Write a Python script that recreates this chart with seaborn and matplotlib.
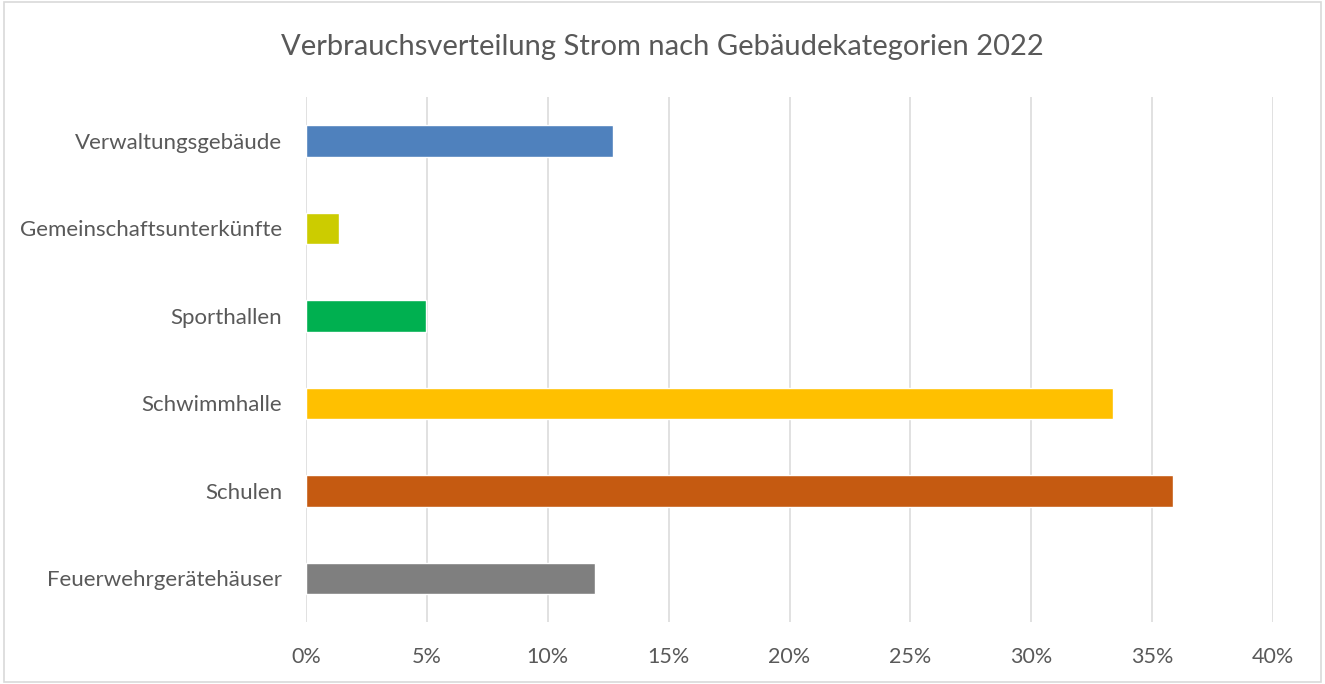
"""Verbrauchsverteilung Strom nach Gebäudekategorien 2022 - horizontal bar chart."""
import matplotlib
matplotlib.use('Agg')
import matplotlib.pyplot as plt
import seaborn as sns
import pandas as pd
from matplotlib.patches import Rectangle
from matplotlib.ticker import PercentFormatter

categories = ['Verwaltungsgebäude', 'Gemeinschaftsunterkünfte', 'Sporthallen',
              'Schwimmhalle', 'Schulen', 'Feuerwehrgerätehäuser']
shares = [12.7, 1.36, 4.97, 33.4, 35.85, 11.95]
colors = ['#4F81BD', '#CCCC00', '#00B050', '#FFC000', '#C55A11', '#7F7F7F']
x_ticks = [0, 5, 10, 15, 20, 25, 30, 35, 40]

sns.set_style('white')
plt.rcParams['font.family'] = ['Lato', 'DejaVu Sans']
text_color = '#595959'
grid_color = '#D9D9D9'

df = pd.DataFrame({'Kategorie': categories, 'Anteil': shares})

fig = plt.figure(figsize=(13.25, 6.84), dpi=100)
ax = fig.add_axes([306 / 1325, 1 - 622 / 684, (1273 - 306) / 1325, (622 - 97) / 684])

sns.barplot(data=df, x='Anteil', y='Kategorie', hue='Kategorie', palette=colors,
            order=categories, hue_order=categories, width=0.36, legend=False,
            saturation=1, ax=ax, zorder=3)

ax.set_xlim(0, 40)
ax.set_xticks(x_ticks)
ax.xaxis.set_major_formatter(PercentFormatter(decimals=0))
ax.grid(axis='x', color=grid_color, linewidth=1.1, zorder=0)
ax.grid(axis='y', visible=False)
ax.set_axisbelow(True)
for side in ['top', 'right', 'bottom', 'left']:
    ax.spines[side].set_visible(False)
ax.set_xlabel('')
ax.set_ylabel('')
ax.tick_params(axis='x', length=0, pad=18, labelsize=15.5, labelcolor=text_color)
ax.tick_params(axis='y', length=0, pad=17, labelsize=16, labelcolor=text_color)

fig.text(0.5, 1 - 47 / 684, 'Verbrauchsverteilung Strom nach Gebäudekategorien 2022',
         ha='center', va='center', fontsize=21, color=text_color)

fig.patches.append(Rectangle((0.003, 0.003), 0.994, 0.994, transform=fig.transFigure,
                             fill=False, edgecolor=grid_color, linewidth=1.2))

fig.savefig('out.png', dpi=100)
plt.close(fig)
